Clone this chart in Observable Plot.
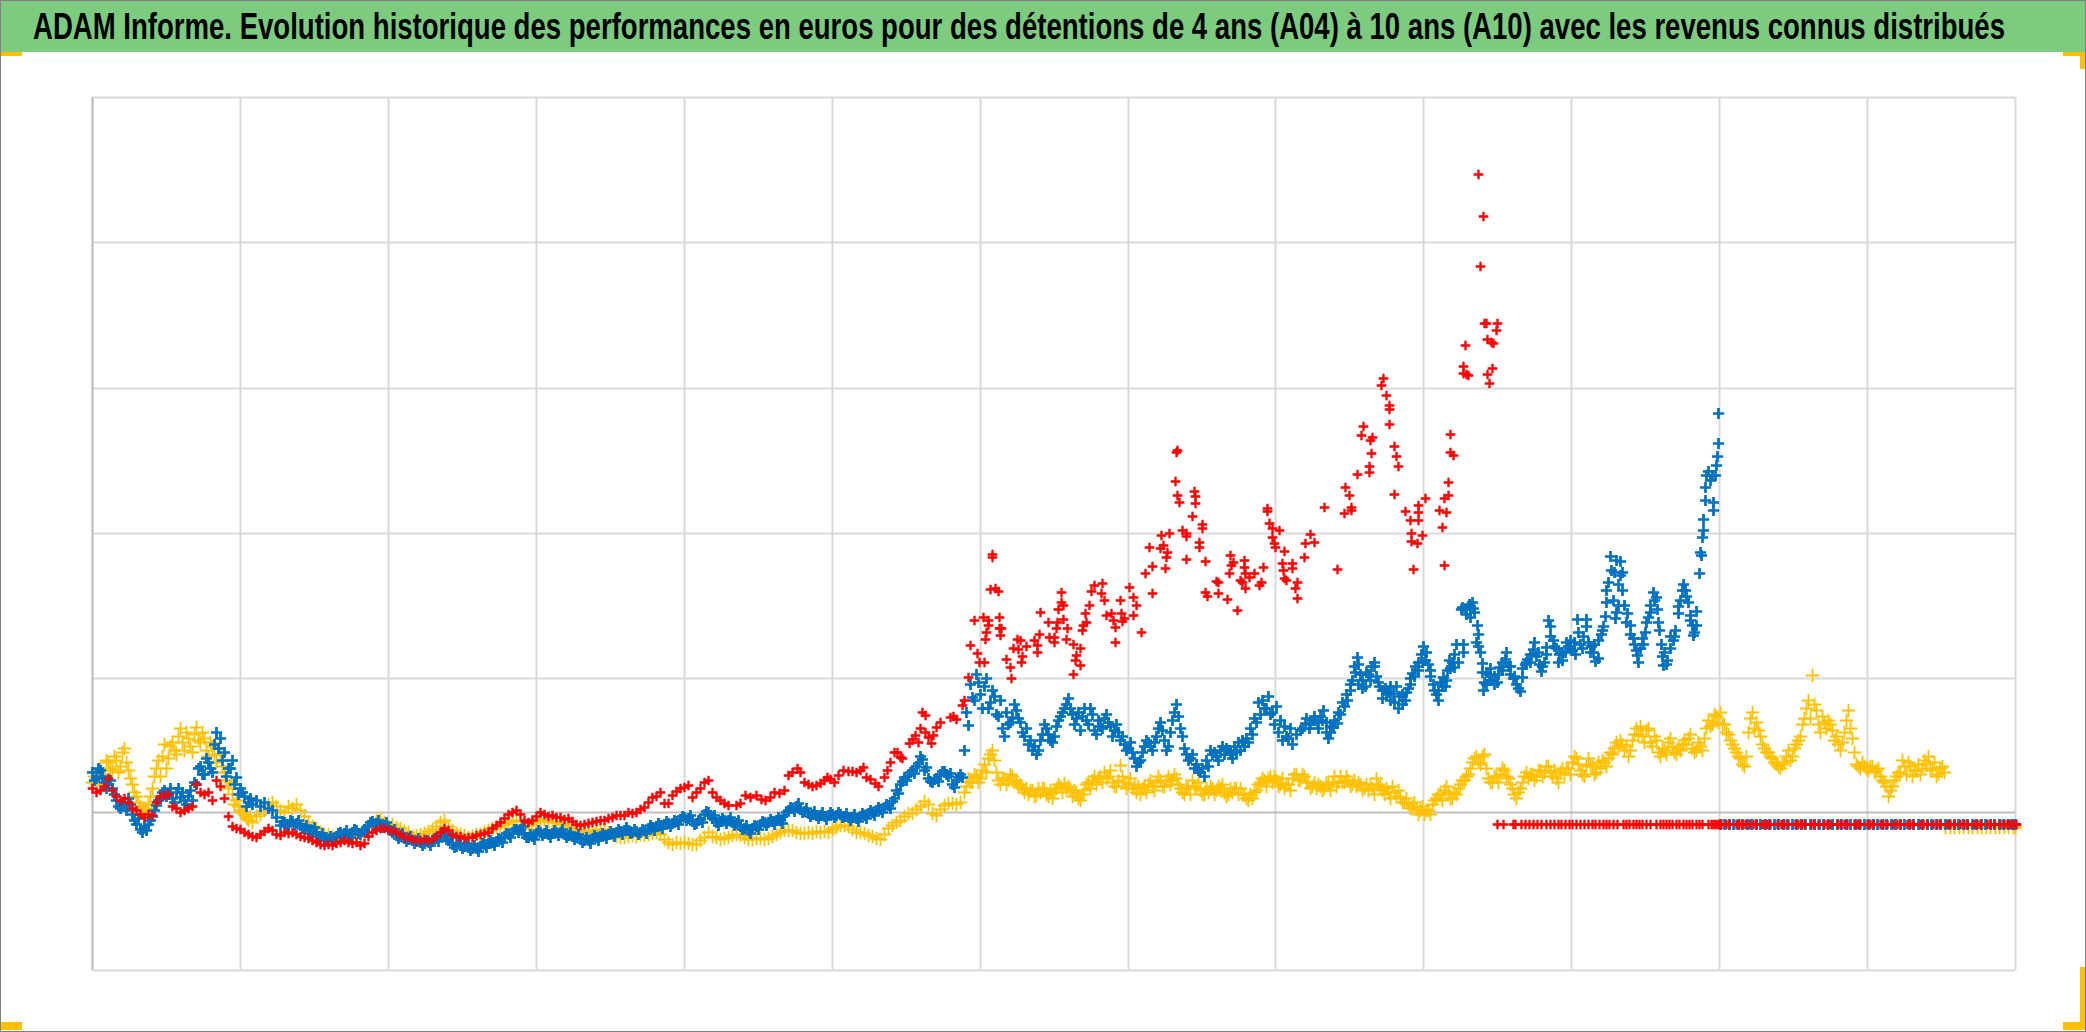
<!DOCTYPE html>
<html lang="fr">
<head>
<meta charset="utf-8">
<script src="https://cdn.jsdelivr.net/npm/d3@7"></script>
<script src="https://cdn.jsdelivr.net/npm/@observablehq/plot@0.6"></script>
<style>
html,body{margin:0;padding:0;background:#fff;}
#page{position:relative;width:2086px;height:1032px;overflow:hidden;}
#title{height:52px;background:#7DCB7E;display:block;overflow:hidden;white-space:nowrap;}
#title span{display:inline-block;margin-left:33px;font:bold 36px/54px "Liberation Sans Narrow","Liberation Sans",sans-serif;color:#000;transform-origin:0 50%;}
.corner{position:absolute;background:#FFC000;}
#frame{position:absolute;inset:0;border:1.5px solid #808080;box-sizing:border-box;pointer-events:none;}
#chart svg{display:block;}
</style>
</head>
<body>
<div id="page">
<div id="title"><span>ADAM Informe. Evolution historique des performances en euros pour des détentions de 4 ans (A04) à 10 ans (A10) avec les revenus connus distribués</span></div>
<div id="chart"></div>
<div class="corner" style="left:0;top:52px;width:22px;height:4px"></div>
<div class="corner" style="left:2063px;top:52px;width:23px;height:4px"></div>
<div class="corner" style="left:2080px;top:52px;width:6px;height:17px"></div>
<div class="corner" style="left:0;top:1022px;width:22px;height:8px"></div>
<div class="corner" style="left:2063px;top:1022px;width:23px;height:8px"></div>
<div class="corner" style="left:2080px;top:967px;width:6px;height:63px"></div>
<div id="frame"></div>
</div>
<script>
// Axis structure (no labels in the source picture)
const xGrid = [0,148,296,444,592,740,888,1036,1183,1331,1479,1627,1775,1923];
const yGrid = [-158,134,279,424,570,715];
const yZero = 0;

// A10 (yellow): one reading every 4 days from day 0
const yellowStep = 4;
const yellowValues = [
30,28,44,38,50,42,52,46,64,42,28,16,6,-2,8,24,44,36,68,54,70,58,84,62,74,60,85,70,74,56,66,50,58,40,24,18,12,2,-2,-8,
-10,-4,-2,2,8,10,6,2,0,6,4,8,2,-4,-10,-14,-16,-20,-22,-22,-24,-26,-24,-26,-25,-24,-24,-22,-20,-14,-10,-8,-6,-10,-14,-12,-15,-16,-19,-20,
-24,-23,-22,-21,-19,-17,-14,-10,-8,-14,-18,-21,-22,-23,-25,-24,-22,-22,-20,-18,-16,-15,-14,-12,-10,-8,-9,-13,-16,-13,-11,-9,-8,-7,-9,-10,-10,-12,-12,-14,
-16,-18,-20,-20,-18,-19,-18,-17,-18,-20,-22,-24,-25,-25,-24,-23,-24,-22,-23,-22,-21,-20,-22,-27,-30,-32,-30,-31,-30,-31,-32,-32,-28,-25,-20,-24,-25,-27,-26,-25,
-23,-22,-23,-25,-27,-27,-26,-26,-27,-26,-24,-22,-20,-18,-18,-18,-20,-21,-21,-20,-21,-19,-20,-19,-20,-17,-15,-13,-13,-14,-17,-20,-20,-21,-23,-24,-26,-27,-22,-16,
-13,-10,-8,-4,-1,-1,3,6,11,8,-1,-3,3,7,9,9,8,10,20,34,30,36,34,48,54,62,40,28,34,32,36,32,28,20,18,22,17,20,24,16,
14,24,26,29,26,16,20,12,22,30,32,28,36,40,36,30,26,47,30,28,24,20,18,26,28,26,30,32,26,36,32,34,24,18,24,32,24,22,18,20,
24,22,24,20,18,20,24,24,18,12,14,22,30,32,34,30,32,28,24,28,34,38,32,36,30,26,24,26,24,28,30,26,36,30,32,28,26,28,24,22,
24,34,26,18,20,26,16,14,10,8,6,3,2,-2,2,8,14,18,22,20,14,18,28,32,38,50,56,48,58,34,30,36,38,42,34,24,14,24,36,34,
38,36,42,40,46,36,34,40,38,44,50,54,42,36,54,46,40,44,50,54,58,70,72,62,56,72,84,86,70,84,66,72,56,62,70,66,58,62,72,74,
64,62,66,74,92,88,96,100,88,78,68,60,54,46,80,100,90,76,64,60,54,48,44,50,62,56,68,76,94,112,137,102,80,90,92,82,76,62,80,102,
74,48,44,46,42,46,42,36,30,16,26,36,40,46,50,36,42,38,52,56,44,36,44,40
];
// Yellow cloud: further readings taken two days later, in the scattered stretches
const yellowEarlyStart = 2;
const yellowEarlyValues = [36,40,34,52,44,56,40,60,50,34,20,10,2,4,16,36,52,56,44,66,62,76,70,80,66,78,72,80,62,70,58,64,46,32,30,8,6,0,-6,-4];
const yellowLaterStart = 874;
const yellowLaterValues = [
26,30,38,30,42,40,58,52,32,34,28,38,30,26,24,24,22,16,24,24,
18,22,20,28,20,24,22,22,14,18,28,24,36,34,30,34,42,26,32,36,
24,34,28,26,24,20,32,22,36,26,32,28,38,28,20,26,18,26,30,18,
24,26,18,26,28,16,24,24,18,18,14,18,20,28,34,26,36,36,26,34,
28,22,38,32,38,30,24,30,28,22,30,22,36,30,30,36,26,32,30,22,
28,28,18,28,22,24,14,20,22,10,14,4,10,-2,6,2,-2,12,18,12,
26,14,20,24,32,36,44,54,50,56,44,30,36,30,44,36,28,18,20,30,
40,38,32,42,36,46,40,42,30,44,44,38,56,48,38,46,48,38,50,52,
46,60,64,66,68,66,62,78,78,76,82,70,76,60,64,58,74,60,64,68,
68,78,60,70,62,84,86,98,90,88,80,72,64,56,48,56,94,84,82,68,
60,56,50,46,48,56,52,64,72,88,104,94,108,88,96,84,88,72,68,70,
92,84,60,46,50,44,46,40,44,32,26,22,32,40,52,38,46,42,48,44,
48,42,50,38,46
];
const yellowTailDays = [1853,1858,1862,1867,1871,1876,1880,1885,1889,1894,1898,1903,1907,1912,1916,1921,1923];
const yellowTailValue = -15;

// A07 (blue): one reading every 4 days up to day 1204, then individual readings
const blueStep = 4;
const blueValues = [
40,34,42,30,28,24,12,4,10,14,-2,-12,-17,-14,-12,-4,7,14,22,18,14,20,15,12,16,12,28,46,38,50,40,80,74,60,44,52,35,24,16,10,
8,12,6,10,4,2,-5,-13,-10,-12,-9,-11,-13,-16,-18,-18,-21,-24,-25,-27,-26,-24,-20,-21,-22,-20,-18,-22,-17,-13,-9,-11,-12,-13,-15,-20,-23,-24,-26,-27,
-28,-29,-30,-31,-30,-29,-26,-23,-24,-28,-32,-34,-33,-34,-35,-36,-36,-34,-32,-31,-30,-29,-27,-24,-22,-20,-17,-17,-22,-25,-24,-21,-20,-21,-22,-21,-20,-20,-22,-23,
-24,-25,-27,-28,-28,-26,-25,-24,-23,-22,-21,-20,-19,-18,-18,-20,-19,-20,-18,-16,-15,-14,-13,-12,-11,-11,-9,-7,-5,-6,-9,-11,-7,-2,0,-6,-10,-9,-8,-8,
-10,-11,-14,-16,-18,-16,-14,-12,-10,-10,-9,-8,-8,-3,2,4,6,3,1,-1,-2,-3,-3,-4,-3,-2,-3,-2,-4,-5,-5,-6,-4,-3,-1,0,2,3,5,7,
11,22,28,35,37,42,46,56,42,34,30,34,38,41,36,28,32,38,62,87,115,138,118,126,104,122,98,112,76,88,95,102,90,76,68,62,58,72,88,78,
70,86,96,104,114,98,94,82,104,88,98,78,86,94,90,76,88,72,68,64,60,46,52,66,70,62,76,90,72,66,92,108,84,64,52,58,48,40,36,46,
58,56,62,58,62,54,60,62,66,70,78,90,98,104,116,100,106,92,86,74,68,78
];
const blueEarlyStart = 2;
const blueEarlyValues = [32,44,36,24,32,18,6,10,2,8,-8,-6,-20,-18,-8,2,12,20,16,24,10,24,20,8,22,30,44,38,54,44,68,64,52,36,44,28,18,20,6,14];
const blueBandStart = 190;
const blueBandValues = [
-9,-14,-8,-13,-8,-16,-13,-21,-15,-24,-21,-28,-24,-29,-21,-23,-18,-25,-17,-21,-19,-20,-10,-12,-8,-15,-10,-18,-17,-26,-21,-29,-24,
-31,-26,-33,-28,-33,-26,-29,-20,-27,-25,-35,-31,-36,-31,-38,-33,-39,-31,-35,-28,-33,-26,-30,-21,-25,-17,-20,-14,-25,-22,-27,-18,-23,-18,-25,-18,-23,-17,-25,-20,
-27,-22,-30,-25,-31,-23,-28,-21,-26,-19,-24,-17,-22,-15,-21,-17,-22,-17,-21,-13,-18,-11,-16,-9,-14,-8,-12,-4,-8,-3,-12,-8,-10,1,-3,-3,-13,-6,-11,-5,
-13,-8,-17,-13,-21,-13,-17,-9,-13,-7,-12,-5,-11,0,5,1,9,0,4,-4,1,-6,0,-7,0,-5,0,-5,-1,-8,-2,-9,-1,-6,2,-3,5,0,8,4,
14,19,31,32,40,39,49,53,45,31,33,31,41,38,39,25,35,35
];
const blueMidStart = 874;
const blueMidValues = [100,128,112,130,104,134,110,116,96,84,100,90,108,94,80,84,72,66,62,78,84,72,76,92,100,108,104,88,100,96,92,104,82,92,84,98,86,82,80,76,62,70,54,50,60,72,66,70,84,82,62,80,100,96,76,58,54,44,42,44,52,62,60,52,66,64,58,66,70,72,74,84,94,110,112,104,98,88,80,72,76,84];
const blueLateStart = 1210;
const blueLateRow = [84,94,88,96,84,92,80,86,92,100,110,118,128,146,128,124,140,132,150,130,114,118,126,110,104,118,120,128,136,142,150,160,136,122,112,126,132,144,158,150,205,198,206,200,166,140,128,144,128,138,142,160,146,136,124,144,150,150,170,160,146,158,186,166,150,160,170,164,170,180,164,186,160,168,154,182,222,256,240,228,240,190,178,168,150,174,190,200,212,190,156,148,176,176,206,222,216,192,180];
const blueLateDays = [1208,1213,1217,1221,1225,1228,1231,1234,1236,1238,1241,1245,1248,1252,1255,1258,1260,1263,1265,1266,1268,1270,1273,1276,1279,1282,1284,1287,1290,1293,1296,1298,1301,1304,1307,1310,1313,1316,1318,1320,1323,1326,1329,1331,1333,1336,1338,1341,1344,1346,1348,1351,1353,1355,1357,1360,1362,1364,1371,1371,1369,1373,1377,1380,1381,1378,1385,1386,1384,1388,1390,1392,1391,1394,1397,1399,1402,1405,1407,1410,1413,1416,1418,1421,1424,1428,1430,1433,1435,1438,1441,1444,1447,1449,1452,1454,1456,1458,1461,1464,1467,1470,1473,1476,1478,1480,1483,1485,1488,1491,1494,1496,1499,1501,1503,1506,1509,1511,1513,1514,1516,1519,1521,1524,1528,1528,1530,1526,1524,1523,1532,1535,1538,1541,1544,1545,1548,1551,1553,1556,1558,1561,1564,1565,1567,1569,1571,1572,1575,1578,1581,1583,1586,1588,1591,1593,1596,1598,1600,1601,1604,1604,1607,1608,1609,1610,1611,1611,1613,1613,1614,1616,1618,1620,1621,1621,1623,1624,1625,1626,1626];
const blueLateValues = [82,89,84,92,90,96,102,90,74,80,85,89,98,106,112,122,132,140,155,148,138,132,126,138,146,146,136,126,122,124,120,112,119,126,116,108,112,124,134,139,146,150,158,166,152,148,142,128,118,122,130,135,126,142,152,150,145,168,168,160,203,203,208,210,204,195,187,178,170,160,149,130,122,140,138,132,136,130,145,150,153,146,138,134,128,121,135,148,153,158,163,156,148,141,150,165,192,176,172,164,158,152,160,166,172,162,158,193,168,176,193,170,166,160,151,172,178,186,196,210,230,242,212,252,251,237,222,207,200,194,207,199,187,174,162,157,164,168,180,195,207,220,215,203,182,168,147,160,152,164,172,182,199,212,228,222,210,197,187,177,201,187,239,260,257,275,282,293,312,325,337,341,332,337,310,302,337,347,356,369,399];
const blueTailDays = [1628,1632,1637,1641,1646,1650,1655,1659,1664,1668,1673,1677,1682,1686,1691,1695,1700,1704,1709,1713,1718,1722,1727,1731,1736,1740,1745,1749,1754,1758,1763,1767,1772,1776,1781,1785,1790,1794,1799,1803,1808,1812,1817,1821,1826,1830,1835,1839,1844,1848,1853,1857,1862,1866,1871,1875,1880,1884,1889,1893,1898,1902,1907,1911,1916,1920,1923];
const blueTailValue = -12;

// A04 (red): one reading every 4 days up to day 640, then individual readings
const redStep = 4;
const redValues = [
24,20,22,26,34,22,16,12,14,10,4,2,-2,-5,-2,-3,10,16,17,18,6,4,0,2,4,6,28,20,18,20,12,32,26,14,-4,-14,-16,-17,-20,-22,
-24,-25,-22,-19,-16,-18,-22,-23,-20,-21,-20,-22,-24,-25,-26,-28,-30,-32,-33,-32,-33,-31,-30,-28,-30,-31,-30,-33,-31,-24,-20,-18,-16,-16,-18,-18,-20,-22,-25,-25,
-27,-28,-28,-27,-28,-27,-24,-20,-16,-18,-22,-24,-24,-26,-25,-25,-23,-22,-21,-20,-16,-13,-10,-6,-2,0,2,-2,-8,-10,-8,-4,0,-2,-4,-3,-5,-5,-7,-6,
-9,-12,-13,-12,-11,-10,-9,-8,-8,-6,-5,-3,-3,-3,0,-1,0,3,5,10,15,16,20,9,9,17,21,24,25,27,15,20,24,30,32,20,15,12,9,7
];
const redLateDays = [644,648,653,658,664,669,673,678,682,687,692,696,700,705,708,712,716,720,724,728,732,735,738,742,746,751,756,760,764,768,771,774,778,783,786,792,795,798,802,805,808,810,817,820,823,826,828,830,833,833,836,839,841,844,848,858,861,864,870,872,876,
878,885,887,892,882,891,896,896,894,893,898,903,906,900,900,907,907,909,908,914,918,919,921,925,928,934,926,930,929,942,945,945,948,947,956,957,962,962,964,965,966,969,969,971,971,975,974,981,984,983,988,981,988,990,991,994,993,997,999,1002,1010,1009,1012,1014,1019,1021,1023,1023,1028,1029,1032,1030,1037,1041,1044,1041,1049,1053,1060,1060,1057,1068,1069,1071,1075,1074,1073,1077,
1084,1085,1083,1085,1087,1090,1094,1094,1094,1100,1102,1103,1103,1110,1110,1107,1107,1113,1113,1115,1124,1126,1126,1135,1145,1138,1141,1139,1137,1148,1150,1152,1152,1153,1153,1157,1162,1167,1169,1171,1175,1175,1177,1180,1187,1180,1182,1183,1192,1190,1191,1192,1194,1200,1200,1205,1203,1205,1212,1213,1218,1222,1232,1245,1252,1253,1257,1259,1259,1265,1269,1271,1277,1277,1278,1280,1279,1291,1289,1294,1297,1297,1297,1302,1304,1306,1302,
1313,1318,1326,1326,1326,1333,1319,1319,1325,1330,1321,1347,1354,1352,1356,1356,1350,1352,1358,1358,1361,1371,1371,1376,1374,1373,1386,1391,1388,1392,1394,1395,1401,1399,1405,1404,1395,1400,1397];
const redLateValues = [7,9,17,15,17,13,12,15,20,19,22,37,40,44,40,30,28,26,27,29,32,35,33,30,37,42,41,41,40,42,45,35,33,29,26,35,42,50,60,60,55,54,69,73,77,70,84,100,97,80,75,69,77,85,90,95,96,93,107,112,135,
167,159,150,150,192,195,192,187,180,173,223,224,221,258,255,195,184,184,177,153,145,134,164,173,172,166,163,156,150,172,167,160,200,178,190,175,175,170,184,190,203,220,210,207,193,184,173,168,157,152,147,138,164,182,187,190,199,207,221,227,229,219,212,197,199,192,185,170,212,199,194,191,225,215,207,197,180,239,246,219,265,264,277,267,260,255,244,279,
360,362,331,317,310,282,279,276,253,296,321,316,309,288,284,270,265,251,220,216,231,230,219,213,202,257,250,247,239,232,230,252,245,239,224,235,239,227,230,245,304,301,289,284,282,275,269,265,261,249,242,234,232,249,244,230,224,214,255,269,278,270,305,243,299,325,317,305,302,338,377,386,340,346,372,375,359,434,427,417,407,403,388,366,356,346,318,
301,292,307,300,292,314,279,271,269,277,243,302,300,314,317,330,285,247,378,360,357,446,439,437,438,467,638,596,546,489,489,473,469,470,489,482,438,444,429];
const redTailDays = [1405,1411,1421,1423,1429,1433,1437,1441,1445,1449,1454,1458,1462,1466,1469,1473,1477,1480,1484,1488,1492,1496,1500,1503,1507,1511,1514,1517,1521,1525,1531,1534,1537,1541,1544,1547,1550,1554,1558,1564,1568,1571,1574,1577,1580,1584,1587,1591,1594,1597,1600,1604,1607,1610,1616,1619,1621,1623,1625,1627,1629,1634,1637,1644,1647,1650,1653,1657,1661,1664,1670,1672,1675,1678,1685,1689,1692,1696,1703,1706,1709,1712,1719,1722,1726,1732,1735,1738,1745,1748,1752,1755,1762,1765,1768,1775,1778,1781,1788,1791,1795,1801,1805,1808,1815,1818,1821,1828,1831,1835,1841,1845,1848,1855,1858,1862,1868,1872,1875,1882,1885,1888,1895,1898,1902,1908,1912,1915,1918,1921,1924];
const redTailValue = -12;

const evenly = (values, step, start = 0) => values.map((value, i) => ({day: start + i * step, value}));
const paired = (days, values) => days.map((day, i) => ({day, value: values[i]}));
const flat = (days, value) => days.map(day => ({day, value}));

const yellow = [...evenly(yellowValues, yellowStep), ...evenly(yellowEarlyValues, yellowStep, yellowEarlyStart), ...evenly(yellowLaterValues, yellowStep, yellowLaterStart), ...flat(yellowTailDays, yellowTailValue)];
const blue = [...evenly(blueValues, blueStep), ...evenly(blueEarlyValues, blueStep, blueEarlyStart), ...evenly(blueBandValues, blueStep, blueBandStart), ...evenly(blueMidValues, blueStep, blueMidStart), ...evenly(blueLateRow, blueStep, blueLateStart), ...paired(blueLateDays, blueLateValues), ...flat(blueTailDays, blueTailValue)];
const red = [...evenly(redValues, redStep), ...paired(redLateDays, redLateValues), ...flat(redTailDays, redTailValue)];

const chart = Plot.plot({
  width: 2086, height: 980,
  marginLeft: 92, marginRight: 71, marginTop: 45, marginBottom: 62,
  style: {background: "transparent", overflow: "visible"},
  x: {domain: [0, 1923], axis: null},
  y: {domain: [-158, 715], axis: null},
  marks: [
    Plot.ruleX(xGrid, {stroke: "#D9D9D9", strokeWidth: 2}),
    Plot.ruleY(yGrid, {stroke: "#D9D9D9", strokeWidth: 2}),
    Plot.ruleX([0], {stroke: "#BFBFBF", strokeWidth: 2}),
    Plot.ruleY([yZero], {stroke: "#BFBFBF", strokeWidth: 2}),
    Plot.dot(yellow, {x: "day", y: "value", symbol: "plus", r: 4.4, stroke: "#FFC000", strokeWidth: 1.8}),
    Plot.dot(blue, {x: "day", y: "value", symbol: "plus", r: 3.7, stroke: "#0070C0", strokeWidth: 2.7}),
    Plot.dot(red, {x: "day", y: "value", symbol: "plus", r: 3.2, stroke: "#FF0000", strokeWidth: 2.3})
  ]
});
document.getElementById("chart").append(chart);

// Fit the title to the width it occupies in the source
const t = document.querySelector("#title span");
const w = t.getBoundingClientRect().width;
t.style.transform = `scaleX(${1972 / w})`;
</script>
</body>
</html>
